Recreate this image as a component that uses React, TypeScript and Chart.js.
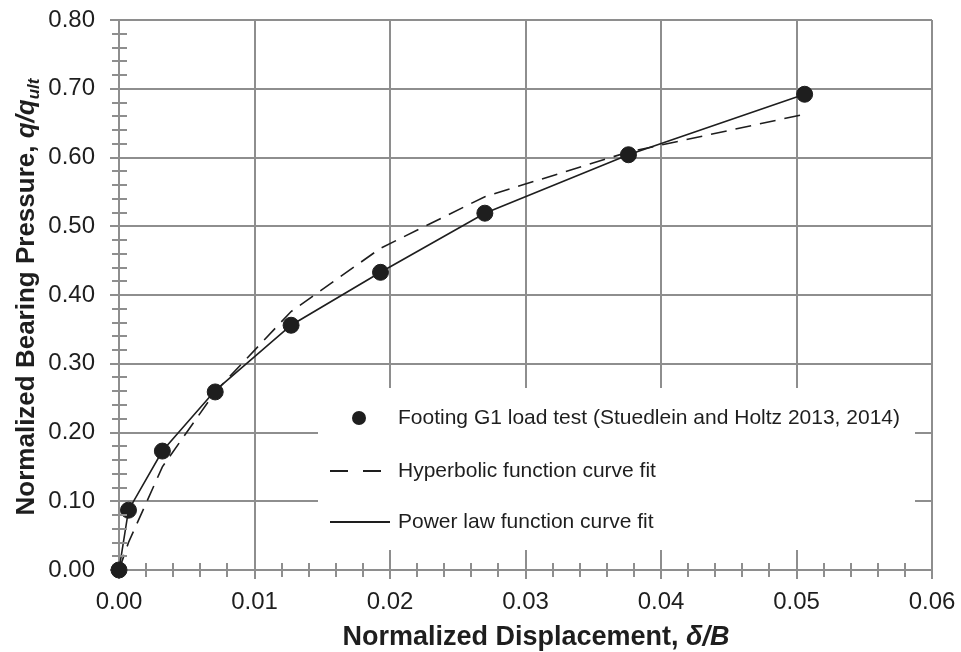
import React, { useEffect, useRef } from 'react';
import { Chart, registerables } from 'chart.js';

Chart.register(...registerables);

// ---- data ----
const displacement = [0, 0.0007, 0.0032, 0.0071, 0.0127, 0.0193, 0.027, 0.0376, 0.0506];
const loadTest = [0, 0.087, 0.173, 0.259, 0.356, 0.433, 0.519, 0.604, 0.692];
const hyperbolicFit = [0, 0.04, 0.15, 0.259, 0.376, 0.468, 0.543, 0.608, 0.663];
const powerLawFit = [0, 0.087, 0.173, 0.261, 0.356, 0.433, 0.519, 0.604, 0.692];

const legendLabels = [
  'Footing G1 load test (Stuedlein and Holtz 2013, 2014)',
  'Hyperbolic function curve fit',
  'Power law function curve fit',
];

const xTitleMain = 'Normalized Displacement, ';
const xTitleItalic = '\u03B4/B';
const yTitleMain = 'Normalized Bearing Pressure, ';
const yTitleItalic = 'q/q';
const yTitleSub = 'ult';

const X_MIN = 0, X_MAX = 0.06, X_STEP = 0.01, X_MINOR = 0.002;
const Y_MIN = 0, Y_MAX = 0.8, Y_STEP = 0.1, Y_MINOR = 0.02;

const FONT = '"Liberation Sans", Arial, sans-serif';
const GRID = '#8e8e8e';
const INK = '#1e1e1e';

function toXY(xs: number[], ys: number[]) {
  return xs.map((x, i) => ({ x, y: ys[i] }));
}

function drawParts(ctx: CanvasRenderingContext2D, parts: { t: string; f: string; dy?: number }[], x: number, y: number) {
  let cx = x;
  for (const p of parts) {
    ctx.font = p.f;
    ctx.fillText(p.t, cx, y + (p.dy || 0));
    cx += ctx.measureText(p.t).width;
  }
}
function partsWidth(ctx: CanvasRenderingContext2D, parts: { t: string; f: string; dy?: number }[]) {
  let w = 0;
  for (const p of parts) {
    ctx.font = p.f;
    w += ctx.measureText(p.t).width;
  }
  return w;
}

const decorPlugin = {
  id: 'decor',
  afterDraw(chart: any) {
    const ctx: CanvasRenderingContext2D = chart.ctx;
    const xs = chart.scales.x;
    const ys = chart.scales.y;
    const area = chart.chartArea;
    ctx.save();
    // minor ticks
    ctx.strokeStyle = GRID;
    ctx.lineWidth = 2;
    const nx = Math.round((X_MAX - X_MIN) / X_MINOR);
    const perX = Math.round(X_STEP / X_MINOR);
    for (let i = 1; i < nx; i++) {
      if (i % perX === 0) continue;
      const px = Math.round(xs.getPixelForValue(X_MIN + i * X_MINOR));
      ctx.beginPath();
      ctx.moveTo(px, area.bottom - 7);
      ctx.lineTo(px, area.bottom + 7);
      ctx.stroke();
    }
    const ny = Math.round((Y_MAX - Y_MIN) / Y_MINOR);
    const perY = Math.round(Y_STEP / Y_MINOR);
    for (let i = 1; i < ny; i++) {
      if (i % perY === 0) continue;
      const py = Math.round(ys.getPixelForValue(Y_MIN + i * Y_MINOR));
      ctx.beginPath();
      ctx.moveTo(area.left - 7, py);
      ctx.lineTo(area.left + 8, py);
      ctx.stroke();
    }

    // legend box
    const lx = 318, ly = 388, lw = 597, lh = 162;
    ctx.fillStyle = '#ffffff';
    ctx.fillRect(lx, ly, lw, lh);
    ctx.fillStyle = INK;
    ctx.strokeStyle = INK;
    ctx.font = `21px ${FONT}`;
    ctx.textBaseline = 'middle';
    ctx.textAlign = 'left';
    const rows = [418, 471, 522];
    const textX = 398;
    // marker
    ctx.beginPath();
    ctx.arc(359, rows[0], 7, 0, Math.PI * 2);
    ctx.fill();
    ctx.fillText(legendLabels[0], textX, rows[0]);
    // dashed
    ctx.lineWidth = 2;
    ctx.setLineDash([18, 15]);
    ctx.beginPath();
    ctx.moveTo(330, rows[1]);
    ctx.lineTo(382, rows[1]);
    ctx.stroke();
    ctx.setLineDash([]);
    ctx.fillText(legendLabels[1], textX, rows[1]);
    ctx.beginPath();
    ctx.moveTo(330, rows[2]);
    ctx.lineTo(390, rows[2]);
    ctx.stroke();
    ctx.fillText(legendLabels[2], textX, rows[2]);

    // axis titles
    ctx.textBaseline = 'alphabetic';
    ctx.fillStyle = INK;
    const xParts = [
      { t: xTitleMain, f: `bold 27px ${FONT}` },
      { t: xTitleItalic, f: `italic bold 27px ${FONT}` },
    ];
    const xw = partsWidth(ctx, xParts);
    drawParts(ctx, xParts, 536 - xw / 2, 645);

    const yParts = [
      { t: yTitleMain, f: `bold 26px ${FONT}` },
      { t: yTitleItalic, f: `italic bold 26px ${FONT}` },
      { t: yTitleSub, f: `italic bold 17px ${FONT}`, dy: 5 },
    ];
    const yw = partsWidth(ctx, yParts);
    ctx.translate(34, 297);
    ctx.rotate(-Math.PI / 2);
    drawParts(ctx, yParts, -yw / 2, 0);
    ctx.restore();
  },
};

export default function App() {
  const ref = useRef<HTMLCanvasElement | null>(null);
  useEffect(() => {
    if (!ref.current) return;
    const chart = new Chart(ref.current, {
      type: 'scatter',
      data: {
        datasets: [
          {
            label: legendLabels[0],
            data: toXY(displacement, loadTest),
            backgroundColor: INK,
            borderColor: INK,
            pointRadius: 8,
            pointHoverRadius: 8,
            showLine: false,
            clip: false,
          },
          {
            label: legendLabels[1],
            data: toXY(displacement, hyperbolicFit),
            borderColor: INK,
            borderWidth: 1.6,
            borderDash: [16, 9],
            pointRadius: 0,
            showLine: true,
            tension: 0,
          },
          {
            label: legendLabels[2],
            data: toXY(displacement, powerLawFit),
            borderColor: INK,
            borderWidth: 1.6,
            pointRadius: 0,
            showLine: true,
            tension: 0,
          },
        ],
      },
      options: {
        responsive: false,
        animation: false,
        layout: { padding: { top: 20, right: 29, left: 0, bottom: 0 } },
        plugins: { legend: { display: false }, tooltip: { enabled: false }, title: { display: false } },
        scales: {
          x: {
            type: 'linear',
            min: X_MIN,
            max: X_MAX,
            afterFit: (s: any) => { s.height = 82; s.paddingLeft = 0; s.paddingRight = 0; },
            ticks: {
              stepSize: X_STEP,
              color: INK,
              font: { family: FONT, size: 24 },
              padding: 9,
              maxRotation: 0,
              callback: (v: any) => Number(v).toFixed(2),
            },
            grid: { color: GRID, lineWidth: 2, tickLength: 9, tickColor: GRID, drawTicks: true },
            border: { display: true, color: GRID, width: 2 },
          },
          y: {
            type: 'linear',
            min: Y_MIN,
            max: Y_MAX,
            afterFit: (s: any) => { s.width = 119; s.paddingTop = 0; s.paddingBottom = 0; },
            ticks: {
              stepSize: Y_STEP,
              color: INK,
              font: { family: FONT, size: 24 },
              padding: 15,
              callback: (v: any) => Number(v).toFixed(2),
            },
            grid: { color: GRID, lineWidth: 2, tickLength: 9, tickColor: GRID, drawTicks: true },
            border: { display: true, color: GRID, width: 2 },
          },
        },
      },
      plugins: [decorPlugin],
    } as any);
    return () => chart.destroy();
  }, []);
  return (
    <div style={{ position: 'fixed', left: 0, top: 0, width: 961, height: 652, background: '#fff' }}>
      <canvas ref={ref} width={961} height={652} />
    </div>
  );
}
